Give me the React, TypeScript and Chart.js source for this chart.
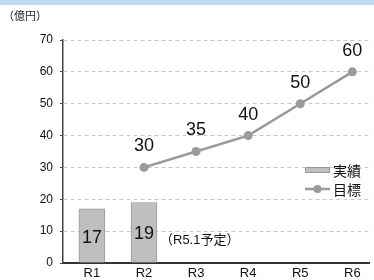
import React, { useEffect, useRef } from "react";
import { Chart, registerables } from "chart.js";

Chart.register(...registerables);

const categories = ["R1", "R2", "R3", "R4", "R5", "R6"];
const actual: (number | null)[] = [17, 19, null, null, null, null];
const target: (number | null)[] = [null, 30, 35, 40, 50, 60];
const yTicks = [0, 10, 20, 30, 40, 50, 60, 70];
const unitLabel = "（億円）";
const noteLabel = "（R5.1予定）";
const seriesNames = ["実績", "目標"];

const FONT = "'Liberation Sans', Arial, 'Noto Sans CJK JP', sans-serif";
const BAR_FILL = "#bfbfbf";
const BAR_BORDER = "#999999";
const LINE = "#9a9a9a";

const overlayPlugin = {
  id: "overlay",
  afterDatasetsDraw(chart: any) {
    const ctx = chart.ctx;
    const xs = chart.scales.x;
    const ys = chart.scales.y;
    ctx.save();
    ctx.fillStyle = "#111";
    ctx.textAlign = "center";
    ctx.textBaseline = "middle";
    ctx.font = `18px ${FONT}`;
    const barMeta = chart.getDatasetMeta(0);
    barMeta.data.forEach((el: any, i: number) => {
      const v = actual[i];
      if (v == null) return;
      ctx.fillText(String(v), el.x, (el.y + el.base) / 2 + 2);
    });
    const lineMeta = chart.getDatasetMeta(1);
    lineMeta.data.forEach((el: any, i: number) => {
      const v = target[i];
      if (v == null) return;
      ctx.fillText(String(v), el.x, el.y - 21);
    });
    ctx.font = `13px ${FONT}`;
    ctx.textAlign = "left";
    ctx.fillText(noteLabel, xs.getPixelForValue(2) + 16, ys.getPixelForValue(7));
    ctx.font = `11px ${FONT}`;
    ctx.fillStyle = "#222";
    ctx.fillText(unitLabel, 3, 17);
    const lx = 305;
    const ly1 = 170;
    const ly2 = 189;
    ctx.fillStyle = BAR_FILL;
    ctx.strokeStyle = BAR_BORDER;
    ctx.lineWidth = 1;
    ctx.fillRect(lx, ly1 - 3, 25, 6);
    ctx.strokeRect(lx + 0.5, ly1 - 2.5, 24, 5);
    ctx.strokeStyle = LINE;
    ctx.lineWidth = 2.5;
    ctx.beginPath();
    ctx.moveTo(lx, ly2);
    ctx.lineTo(lx + 25, ly2);
    ctx.stroke();
    ctx.fillStyle = LINE;
    ctx.beginPath();
    ctx.arc(lx + 12.5, ly2, 4, 0, Math.PI * 2);
    ctx.fill();
    ctx.fillStyle = "#111";
    ctx.font = `14px 'Noto Sans CJK JP', sans-serif`;
    ctx.fillText(seriesNames[0], lx + 28, ly1 + 1);
    ctx.fillText(seriesNames[1], lx + 28, ly2 + 1);
    ctx.restore();
  },
};

export default function App() {
  const ref = useRef<HTMLCanvasElement | null>(null);
  useEffect(() => {
    if (!ref.current) return;
    const chart = new Chart(ref.current, {
      type: "bar",
      data: {
        datasets: [
          {
            type: "bar",
            label: seriesNames[0],
            data: categories.map((_, i) => ({ x: i + 1, y: actual[i] })) as any,
            backgroundColor: BAR_FILL,
            borderColor: BAR_BORDER,
            borderWidth: 1,
            barThickness: 26,
            order: 2,
          },
          {
            type: "line",
            label: seriesNames[1],
            data: categories.map((_, i) => ({ x: i + 1, y: target[i] })) as any,
            borderColor: LINE,
            backgroundColor: LINE,
            borderWidth: 2.5,
            pointRadius: 4.5,
            pointBackgroundColor: LINE,
            pointBorderWidth: 0,
            spanGaps: false,
            order: 1,
          },
        ],
      },
      options: {
        animation: false,
        responsive: false,
        maintainAspectRatio: false,
        layout: { padding: { top: 40, left: 0, right: 0, bottom: 0 } },
        plugins: { legend: { display: false }, tooltip: { enabled: false }, title: { display: false } },
        scales: {
          x: {
            type: "linear",
            offset: false,
            min: 0.445,
            max: 6.33,
            grid: { display: false, drawTicks: false, offset: false },
            border: { display: true, color: "#333", width: 2 },
            ticks: {
              padding: 3,
              color: "#111",
              font: { size: 13, family: FONT },
              callback: (v: any) => categories[Number(v) - 1] ?? "",
            },
            afterBuildTicks: (scale: any) => {
              scale.ticks = categories.map((_, i) => ({ value: i + 1 }));
            },
            afterFit: (scale: any) => {
              scale.height = 17;
            },
          },
          y: {
            min: 0,
            max: 70,
            grid: {
              color: "#c8c8c8",
              tickColor: "#444",
              tickLength: 3,
              tickBorderDash: [],
            } as any,
            border: { display: true, color: "#444", width: 1.5, dash: [4, 3] } as any,
            ticks: {
              stepSize: 10,
              padding: 7,
              color: "#111",
              font: { size: 12, family: FONT },
            },
            afterBuildTicks: (scale: any) => {
              scale.ticks = yTicks.map((v) => ({ value: v }));
            },
            afterFit: (scale: any) => {
              scale.width = 63;
            },
          },
        },
      } as any,
      plugins: [overlayPlugin],
    });
    return () => chart.destroy();
  }, []);
  return (
    <div style={{ position: "fixed", left: 0, top: 0, width: 374, height: 280, background: "#fff" }}>
      <div style={{ position: "absolute", left: 0, top: 0, width: 374, height: 5, background: "#c5d9f0" }} />
      <canvas ref={ref} width={374} height={280} style={{ position: "absolute", left: 0, top: 0, width: 374, height: 280 }} />
    </div>
  );
}
